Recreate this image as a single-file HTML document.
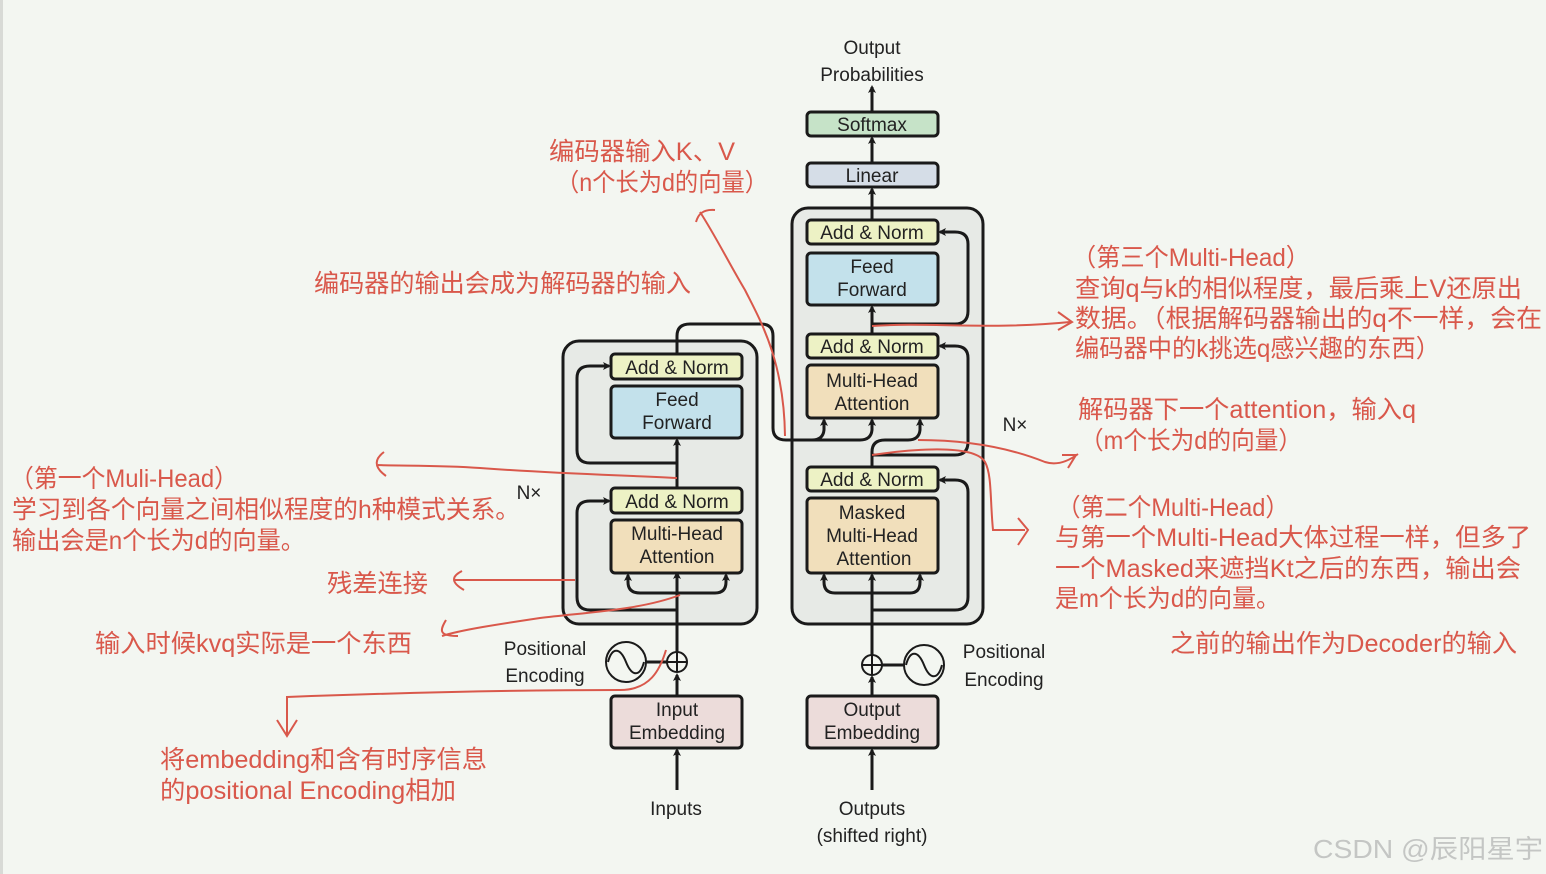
<!DOCTYPE html>
<html><head><meta charset="utf-8"><style>
body{margin:0;background:#f3f6f1;}
svg{display:block}
.t{font-family:"Liberation Sans","Noto Sans CJK SC",sans-serif;fill:#222;font-size:19px;text-anchor:middle}
.r{font-family:"Liberation Sans","Noto Sans CJK SC",sans-serif;fill:#d9584b;font-size:25px}
.b{stroke:#1a1a1a;stroke-width:3;}
.ln{stroke:#1a1a1a;stroke-width:3;fill:none}
.rl{stroke:#d9584b;stroke-width:2;fill:none}
</style></head><body>
<svg width="1546" height="874" viewBox="0 0 1546 874" xmlns="http://www.w3.org/2000/svg">
<defs>
<marker id="a" markerWidth="8" markerHeight="8" refX="6" refY="4" orient="auto" markerUnits="userSpaceOnUse" viewBox="0 0 8 8"><path d="M0,0 L8,4 L0,8 L2,4z" fill="#1a1a1a"/></marker>
</defs>
<rect x="0" y="0" width="3" height="874" fill="#d8dad6"/>
<rect x="563" y="341" width="194" height="283" rx="16" fill="#e7eae6" class="b"/>
<rect x="792" y="208" width="191" height="416" rx="16" fill="#e7eae6" class="b"/>

<path class="ln" d="M677 700 L677 675" marker-end="url(#a)"/>
<path class="ln" d="M677 652 L677 573" marker-end="url(#a)"/>
<path class="ln" d="M677 593 L640 593 Q628 593 628 582 L628 575" marker-end="url(#a)"/>
<path class="ln" d="M677 593 L715 593 Q726 593 726 582 L726 575" marker-end="url(#a)"/>
<path class="ln" d="M677 610 L590 610 Q577 610 577 597 L577 513 Q577 501 590 501 L609 501" marker-end="url(#a)"/>
<path class="ln" d="M677 488 L677 440" marker-end="url(#a)"/>
<path class="ln" d="M677 463 L590 463 Q577 463 577 450 L577 378 Q577 366 590 366 L609 366" marker-end="url(#a)"/>
<path class="ln" d="M677 354 L677 336 Q677 324 690 324 L761 324 Q773 324 773 336 L773 428 Q773 440 786 440 L812 440 Q823 440 824 430 L824 420" marker-end="url(#a)"/>
<path class="ln" d="M812 440 L860 440 Q871 440 872 430 L872 420" marker-end="url(#a)"/>
<path class="ln" d="M872 790 L872 750" marker-end="url(#a)"/>
<path class="ln" d="M677 790 L677 750" marker-end="url(#a)"/>
<path class="ln" d="M872 700 L872 677" marker-end="url(#a)"/>
<path class="ln" d="M872 655 L872 575" marker-end="url(#a)"/>
<path class="ln" d="M872 593 L835 593 Q824 593 824 582 L824 575" marker-end="url(#a)"/>
<path class="ln" d="M872 593 L910 593 Q920 593 920 582 L920 575" marker-end="url(#a)"/>
<path class="ln" d="M872 610 L955 610 Q968 610 968 597 L968 492 Q968 480 955 480 L940 480" marker-end="url(#a)"/>
<path class="ln" d="M872 467 L872 452 Q872 440 885 440 L908 440 Q919 440 920 430 L920 420" marker-end="url(#a)"/>
<path class="ln" d="M872 455 L955 455 Q968 455 968 442 L968 358 Q968 346 955 346 L940 346" marker-end="url(#a)"/>
<path class="ln" d="M872 334 L872 307" marker-end="url(#a)"/>
<path class="ln" d="M872 324 L955 324 Q968 324 968 311 L968 244 Q968 232 955 232 L940 232" marker-end="url(#a)"/>
<path class="ln" d="M872 220 L872 189" marker-end="url(#a)"/>
<path class="ln" d="M872 163 L872 138" marker-end="url(#a)"/>
<path class="ln" d="M872 112 L872 87" marker-end="url(#a)"/>

<rect x="611" y="354" width="131" height="25" rx="4" fill="#edf2c5" class="b"/>
<text class="t" x="677" y="374">Add &amp; Norm</text>
<rect x="611" y="386" width="131" height="52" rx="4" fill="#c3e1eb" class="b"/>
<text class="t" x="677" y="406">Feed</text><text class="t" x="677" y="429">Forward</text>
<rect x="611" y="488" width="131" height="25" rx="4" fill="#edf2c5" class="b"/>
<text class="t" x="677" y="508">Add &amp; Norm</text>
<rect x="611" y="520" width="131" height="53" rx="4" fill="#f1dfbb" class="b"/>
<text class="t" x="677" y="540">Multi-Head</text><text class="t" x="677" y="563">Attention</text>
<rect x="611" y="696" width="131" height="52" rx="4" fill="#ecdcda" class="b"/>
<text class="t" x="677" y="716">Input</text><text class="t" x="677" y="739">Embedding</text>
<rect x="807" y="220" width="131" height="24" rx="4" fill="#edf2c5" class="b"/>
<text class="t" x="872" y="239">Add &amp; Norm</text>
<rect x="807" y="253" width="131" height="52" rx="4" fill="#c3e1eb" class="b"/>
<text class="t" x="872" y="273">Feed</text><text class="t" x="872" y="296">Forward</text>
<rect x="807" y="334" width="131" height="24" rx="4" fill="#edf2c5" class="b"/>
<text class="t" x="872" y="353">Add &amp; Norm</text>
<rect x="807" y="365" width="131" height="53" rx="4" fill="#f1dfbb" class="b"/>
<text class="t" x="872" y="387">Multi-Head</text><text class="t" x="872" y="410">Attention</text>
<rect x="807" y="467" width="131" height="24" rx="4" fill="#edf2c5" class="b"/>
<text class="t" x="872" y="486">Add &amp; Norm</text>
<rect x="807" y="498" width="131" height="75" rx="4" fill="#f1dfbb" class="b"/>
<text class="t" x="872" y="519">Masked</text><text class="t" x="872" y="542">Multi-Head</text><text class="t" x="874" y="565">Attention</text>
<rect x="807" y="696" width="131" height="52" rx="4" fill="#ecdcda" class="b"/>
<text class="t" x="872" y="716">Output</text><text class="t" x="872" y="739">Embedding</text>
<rect x="807" y="163" width="131" height="24" rx="4" fill="#d5dde7" class="b"/>
<text class="t" x="872" y="182">Linear</text>
<rect x="807" y="112" width="131" height="24" rx="4" fill="#c6e3c8" class="b"/>
<text class="t" x="872" y="131">Softmax</text>
<text class="t" x="872" y="54">Output</text>
<text class="t" x="872" y="81">Probabilities</text>
<text class="t" x="676" y="815">Inputs</text>
<text class="t" x="872" y="815">Outputs</text>
<text class="t" x="872" y="842">(shifted right)</text>
<text class="t" x="545" y="655">Positional</text>
<text class="t" x="545" y="682">Encoding</text>
<text class="t" x="1004" y="658">Positional</text>
<text class="t" x="1004" y="686">Encoding</text>
<text class="t" x="529" y="499">N×</text>
<text class="t" x="1015" y="431">N×</text>

<line x1="646" y1="662" x2="667" y2="662" class="ln"/>
<circle cx="626" cy="662" r="20" fill="none" stroke="#1a1a1a" stroke-width="2"/>
<path d="M608 662 C612 647 620 647 626 662 C632 677 640 677 644 662" fill="none" stroke="#1a1a1a" stroke-width="2"/>
<circle cx="677" cy="662" r="10" fill="none" stroke="#1a1a1a" stroke-width="2"/>
<path d="M667 662 H687 M677 652 V672" stroke="#1a1a1a" stroke-width="2"/>
<line x1="882" y1="665" x2="904" y2="665" class="ln"/>
<circle cx="924" cy="665" r="20" fill="none" stroke="#1a1a1a" stroke-width="2"/>
<path d="M906 665 C910 650 918 650 924 665 C930 680 938 680 942 665" fill="none" stroke="#1a1a1a" stroke-width="2"/>
<circle cx="872" cy="665" r="10" fill="none" stroke="#1a1a1a" stroke-width="2"/>
<path d="M862 665 H882 M872 655 V675" stroke="#1a1a1a" stroke-width="2"/>

<path class="rl" d="M785 436 C784 360 760 320 745 290 C730 265 715 235 700 212"/>
<path class="rl" d="M696 222 C698 215 702 209 715 210"/>
<path class="rl" d="M677 478 C620 475 560 474 480 468 C440 465 400 466 378 465 M384 452 C376 458 372 466 386 476"/>
<path class="rl" d="M575 580 L455 580 M462 571 C452 576 450 582 464 590"/>
<path class="rl" d="M680 595 C640 610 590 612 540 618 C500 624 460 630 442 636 M446 620 C440 630 438 636 458 636"/>
<path class="rl" d="M666 650 C660 670 650 690 620 690 C520 690 420 692 287 697 L287 735 M277 720 L287 736 L297 720"/>
<path class="rl" d="M872 326 C930 322 990 330 1070 322 M1058 312 L1072 322 L1058 330"/>
<path class="rl" d="M918 440 C980 440 1020 452 1045 462 C1058 466 1070 460 1078 454 M1062 455 L1076 455 L1068 468"/>
<path class="rl" d="M872 455 C920 448 975 445 985 462 C992 475 990 500 993 530 L1025 530 M1018 518 L1028 530 L1018 545"/>

<g lengthAdjust="spacingAndGlyphs">
<text class="r" x="549" y="160" textLength="186" lengthAdjust="spacingAndGlyphs">编码器输入K、V</text>
<text class="r" x="556" y="191" textLength="212" lengthAdjust="spacingAndGlyphs">（n个长为d的向量）</text>
<text class="r" x="314" y="292" textLength="377" lengthAdjust="spacingAndGlyphs">编码器的输出会成为解码器的输入</text>
<text class="r" x="1072" y="266" textLength="238" lengthAdjust="spacingAndGlyphs">（第三个Multi-Head）</text>
<text class="r" x="1075" y="297" textLength="447" lengthAdjust="spacingAndGlyphs">查询q与k的相似程度，最后乘上V还原出</text>
<text class="r" x="1075" y="327" textLength="467" lengthAdjust="spacingAndGlyphs">数据。（根据解码器输出的q不一样，会在</text>
<text class="r" x="1075" y="357" textLength="365" lengthAdjust="spacingAndGlyphs">编码器中的k挑选q感兴趣的东西）</text>
<text class="r" x="1078" y="418" textLength="338" lengthAdjust="spacingAndGlyphs">解码器下一个attention，输入q</text>
<text class="r" x="1080" y="449" textLength="222" lengthAdjust="spacingAndGlyphs">（m个长为d的向量）</text>
<text class="r" x="10" y="487" textLength="228" lengthAdjust="spacingAndGlyphs">（第一个Muli-Head）</text>
<text class="r" x="12" y="518" textLength="508" lengthAdjust="spacingAndGlyphs">学习到各个向量之间相似程度的h种模式关系。</text>
<text class="r" x="12" y="549" textLength="293" lengthAdjust="spacingAndGlyphs">输出会是n个长为d的向量。</text>
<text class="r" x="327" y="592" textLength="101" lengthAdjust="spacingAndGlyphs">残差连接</text>
<text class="r" x="95" y="652" textLength="317" lengthAdjust="spacingAndGlyphs">输入时候kvq实际是一个东西</text>
<text class="r" x="1057" y="516" textLength="232" lengthAdjust="spacingAndGlyphs">（第二个Multi-Head）</text>
<text class="r" x="1055" y="546" textLength="476" lengthAdjust="spacingAndGlyphs">与第一个Multi-Head大体过程一样，但多了</text>
<text class="r" x="1055" y="577" textLength="466" lengthAdjust="spacingAndGlyphs">一个Masked来遮挡Kt之后的东西，输出会</text>
<text class="r" x="1055" y="607" textLength="225" lengthAdjust="spacingAndGlyphs">是m个长为d的向量。</text>
<text class="r" x="1170" y="652" textLength="347" lengthAdjust="spacingAndGlyphs">之前的输出作为Decoder的输入</text>
<text class="r" x="160" y="768" textLength="327" lengthAdjust="spacingAndGlyphs">将embedding和含有时序信息</text>
<text class="r" x="160" y="799" textLength="296" lengthAdjust="spacingAndGlyphs">的positional Encoding相加</text>
</g>
<text x="1313" y="858" textLength="230" lengthAdjust="spacingAndGlyphs" style="font-family:'Liberation Sans','Noto Sans CJK SC',sans-serif;font-size:26px;fill:#c4c6c4">CSDN @辰阳星宇</text>
</svg>
</body></html>
